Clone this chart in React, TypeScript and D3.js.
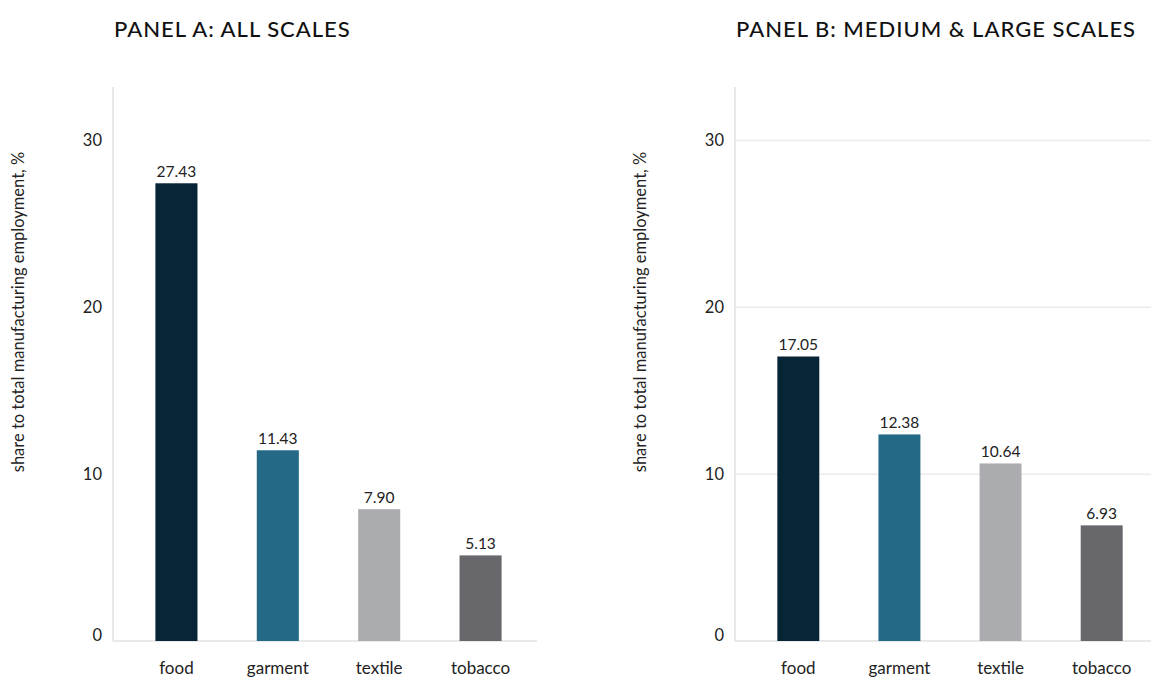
import React from "react";
import * as d3 from "d3";

const categories = ["food", "garment", "textile", "tobacco"];
const panelAValues = [27.43, 11.43, 7.9, 5.13];
const panelBValues = [17.05, 12.38, 10.64, 6.93];
const yTicks = [0, 10, 20, 30];
const colors = ["#082538", "#246a87", "#abacaf", "#68686c"];

const FONT = "Lato, 'Open Sans', sans-serif";
const WIDTH = 1151;
const HEIGHT = 677;

interface PanelProps {
  title: string;
  values: number[];
  axisX: number;
  rightX: number;
  grid: boolean;
}

const Panel: React.FC<PanelProps> = ({ title, values, axisX, rightX, grid }) => {
  const top = 87;
  const bottom = 641;

  const y = d3.scaleLinear().domain([0, 33.2]).range([bottom, top]);
  const x = d3
    .scaleBand<string>()
    .domain(categories)
    .range([axisX + 13, rightX])
    .paddingInner(0.585)
    .paddingOuter(0.29);

  return (
    <g>
      <text
        x={axisX + 1}
        y={37}
        fontFamily={FONT}
        fontSize={22}
        fontWeight={500}
        letterSpacing={1}
        fill="#111"
      >
        {title}
      </text>

      {/* y axis title */}
      <text
        transform={`translate(${axisX - 89}, ${312}) rotate(-90)`}
        textAnchor="middle"
        fontFamily={FONT}
        fontSize={16.5}
        fill="#222"
      >
        share to total manufacturing employment, %
      </text>

      {grid &&
        yTicks
          .filter((t) => t > 0)
          .map((t) => (
            <line
              key={t}
              x1={axisX}
              x2={WIDTH}
              y1={y(t)}
              y2={y(t)}
              stroke="#ebebeb"
              strokeWidth={1.5}
            />
          ))}

      <line x1={axisX} x2={axisX} y1={top} y2={bottom} stroke="#e2e2e2" strokeWidth={1.5} />
      <line
        x1={axisX}
        x2={grid ? WIDTH : rightX + 6}
        y1={bottom}
        y2={bottom}
        stroke="#e2e2e2"
        strokeWidth={1.5}
      />

      {yTicks.map((t) => (
        <text
          key={t}
          x={axisX - 11}
          y={y(t) - (t === 0 ? 6 : 0)}
          dy="0.35em"
          textAnchor="end"
          fontFamily={FONT}
          fontSize={16.5}
          fill="#222"
        >
          {t}
        </text>
      ))}

      {categories.map((c, i) => (
        <g key={c}>
          <rect
            x={x(c)}
            y={y(values[i])}
            width={x.bandwidth()}
            height={bottom - y(values[i])}
            fill={colors[i]}
          />
          <text
            x={(x(c) ?? 0) + x.bandwidth() / 2}
            y={y(values[i]) - 6}
            textAnchor="middle"
            fontFamily={FONT}
            fontSize={15.5}
            fill="#222"
          >
            {values[i].toFixed(2)}
          </text>
          <text
            x={(x(c) ?? 0) + x.bandwidth() / 2}
            y={674}
            textAnchor="middle"
            fontFamily={FONT}
            fontSize={17}
            fill="#222"
          >
            {c}
          </text>
        </g>
      ))}
    </g>
  );
};

export default function App() {
  return (
    <svg
      width={WIDTH}
      height={HEIGHT}
      style={{ position: "absolute", left: 0, top: 0, background: "#fff" }}
    >
      <Panel title="PANEL A: ALL SCALES" values={panelAValues} axisX={113} rightX={531} grid={false} />
      <Panel
        title="PANEL B: MEDIUM & LARGE SCALES"
        values={panelBValues}
        axisX={735}
        rightX={1152}
        grid={true}
      />
    </svg>
  );
}
